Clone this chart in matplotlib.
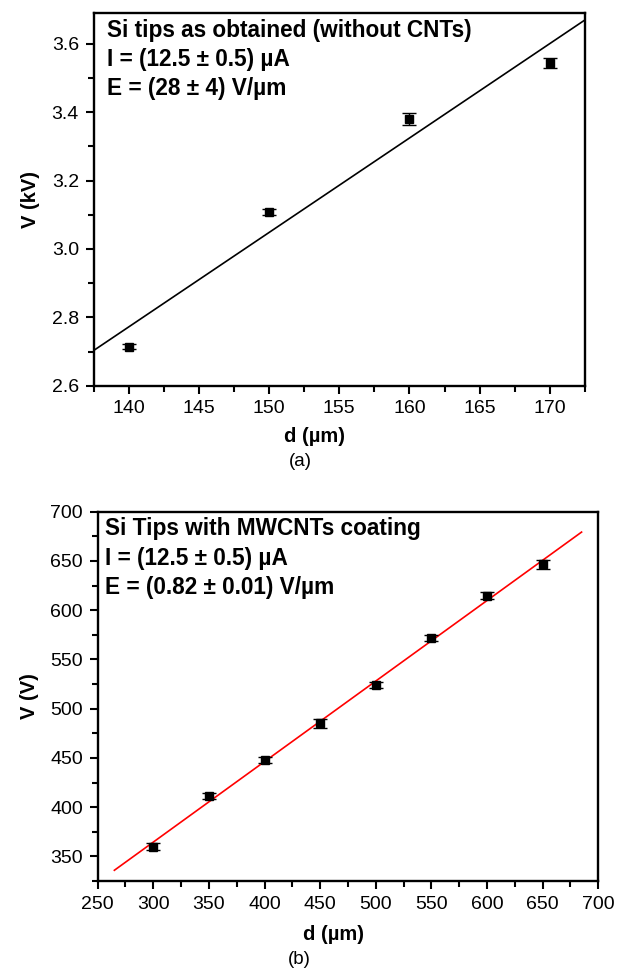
import numpy as np
import matplotlib
matplotlib.use("Agg")
import matplotlib.pyplot as plt
from matplotlib.ticker import MultipleLocator

plt.rcParams["font.family"] = ["Liberation Sans", "DejaVu Sans"]

# panel (a): Si tips as obtained, V in kV
d_a = [140, 150, 160, 170]
v_a = [2.714, 3.107, 3.380, 3.544]
err_a = [0.007, 0.009, 0.018, 0.014]
text_a = ["Si tips as obtained (without CNTs)",
	"I = (12.5 \u00b1 0.5) \u00b5A",
	"E = (28 \u00b1 4) V/\u00b5m"]

# panel (b): Si tips with MWCNTs coating, V in V
d_b = [300, 350, 400, 450, 500, 550, 600, 650]
v_b = [360, 411, 448, 485, 524, 572, 614.5, 646.5]
err_b = [3.5, 3.0, 2.8, 4.7, 3.5, 3.2, 3.5, 4.5]
text_b = ["Si Tips with MWCNTs coating",
	"I = (12.5 \u00b1 0.5) \u00b5A",
	"E = (0.82 \u00b1 0.01) V/\u00b5m"]


def style_axes(ax, xmaj, ymaj):
	ax.xaxis.set_major_locator(MultipleLocator(xmaj))
	ax.xaxis.set_minor_locator(MultipleLocator(xmaj / 2))
	ax.yaxis.set_major_locator(MultipleLocator(ymaj))
	ax.yaxis.set_minor_locator(MultipleLocator(ymaj / 2))
	ax.tick_params(which="both", direction="out", top=False, right=False,
		width=1.5, labelsize=14, pad=4.5)
	ax.tick_params(which="major", length=6)
	ax.tick_params(which="minor", length=4)
	for s in ax.spines.values():
		s.set_linewidth(1.7)


def draw_panel(ax, d, v, err, fit_range, fit_color, lines, x0):
	k, q = np.polyfit(d, v, 1)
	xf = np.array(fit_range)
	ax.plot(xf, k * xf + q, "-", color=fit_color, lw=1.2)
	ax.errorbar(d, v, yerr=err, fmt="s", color="k", ms=6,
		capsize=5.2, elinewidth=1, capthick=1)
	for i, line in enumerate(lines):
		ax.annotate(line, xy=(x0, 1), xycoords="axes fraction",
			xytext=(0, -23.6 - 29.2 * i), textcoords="offset pixels",
			fontsize=16.3, fontweight="bold", va="baseline", ha="left")


fig = plt.figure(figsize=(6.19, 9.76), dpi=100)

ax1 = fig.add_axes([0.1511, 0.6048, 0.794, 0.3819])
draw_panel(ax1, d_a, v_a, err_a, [137.5, 172.5], "k", text_a, 0.027)
ax1.set_xlim(137.5, 172.5)
ax1.set_ylim(2.6, 3.69)
style_axes(ax1, 5, 0.2)
ax1.yaxis.set_major_formatter(matplotlib.ticker.FormatStrFormatter("%.1f"))
ax1.set_xlabel("d (\u00b5m)", fontsize=14.5, fontweight="bold")
ax1.set_ylabel("V (kV)", fontsize=14.5, fontweight="bold")
ax1.xaxis.set_label_coords(0.45, -0.11)
ax1.yaxis.set_label_coords(-0.108, 0.5)
fig.text(0.486, 1 - 461 / 976, "(a)", fontsize=13.5, ha="center", va="center")

ax2 = fig.add_axes([0.1578, 0.0973, 0.8087, 0.3784])
draw_panel(ax2, d_b, v_b, err_b, [265, 685], "#ff0000", text_b, 0.0156)
ax2.set_xlim(250, 700)
ax2.set_ylim(325, 700)
style_axes(ax2, 50, 50)
ax2.set_xlabel("d (\u00b5m)", fontsize=14.5, fontweight="bold")
ax2.set_ylabel("V (V)", fontsize=14.5, fontweight="bold")
ax2.xaxis.set_label_coords(0.471, -0.118)
ax2.yaxis.set_label_coords(-0.118, 0.5)
fig.text(0.483, 1 - 960 / 976, "(b)", fontsize=13.5, ha="center", va="center")

fig.savefig("out.png", dpi=100)
